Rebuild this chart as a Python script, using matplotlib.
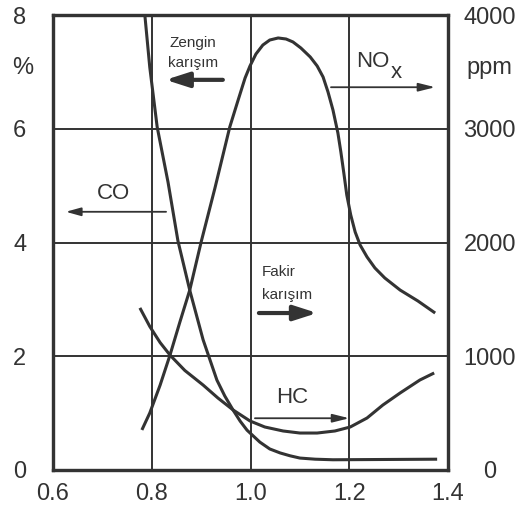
import numpy as np
import matplotlib
matplotlib.use("Agg")
import matplotlib.pyplot as plt
from matplotlib import transforms

plt.rcParams["font.family"] = ["Liberation Sans", "DejaVu Sans"]

# lambda (hava fazlalik katsayisi) ve emisyonlar
co_x = [0.786, 0.796, 0.811, 0.833, 0.853, 0.877, 0.904, 0.932, 0.948, 0.965,
        0.979, 0.993, 1.019, 1.039, 1.060, 1.080, 1.100, 1.131, 1.167, 1.378]
co_pct = [8.0, 7.08, 6.03, 5.06, 4.03, 3.16, 2.29, 1.58, 1.30, 1.05,
          0.86, 0.70, 0.49, 0.37, 0.30, 0.25, 0.21, 0.19, 0.18, 0.19]

hc_x = [0.776, 0.796, 0.817, 0.837, 0.867, 0.904, 0.934, 0.965, 0.999, 1.029,
        1.066, 1.100, 1.135, 1.171, 1.202, 1.236, 1.268, 1.303, 1.343, 1.372]
hc_ppm = [1425, 1262, 1120, 1010, 875, 747, 633, 527, 431, 378,
          343, 325, 325, 343, 378, 457, 571, 677, 791, 853]

nox_x = [0.780, 0.796, 0.817, 0.837, 0.857, 0.877, 0.900, 0.928, 0.958, 0.975,
         0.989, 0.999, 1.011, 1.025, 1.039, 1.056, 1.072, 1.086, 1.102, 1.121,
         1.135, 1.147, 1.157, 1.167, 1.177, 1.183, 1.189, 1.195, 1.203, 1.212,
         1.222, 1.236, 1.252, 1.272, 1.303, 1.339, 1.374]
nox_ppm = [352, 501, 747, 1011, 1301, 1582, 2004, 2479, 3015, 3253,
           3446, 3552, 3657, 3736, 3780, 3798, 3789, 3763, 3710, 3631,
           3552, 3455, 3323, 3165, 2963, 2796, 2611, 2418, 2242, 2092,
           1978, 1873, 1776, 1688, 1582, 1486, 1380]

x_ticks = [0.6, 0.8, 1.0, 1.2, 1.4]
left_ticks = [0, 2, 4, 6, 8]
right_ticks = [0, 1000, 2000, 3000, 4000]

ink = "#333333"

fig = plt.figure(figsize=(5.18, 5.09), dpi=100)
ax = fig.add_axes([53 / 518, 1 - 470 / 509, 395 / 518, 455 / 509])
ax2 = ax.twinx()

ax.set_xlim(0.6, 1.4)
ax.set_ylim(0, 8)
ax2.set_ylim(0, 4000)

# izgara
for gx in [0.8, 1.0, 1.2]:
    ax.axvline(gx, color=ink, lw=1.4, zorder=1)
for gy in [2, 4, 6]:
    ax.axhline(gy, color=ink, lw=1.4, zorder=1)

ax.plot(co_x, co_pct, color=ink, lw=2.2, solid_capstyle="butt",
        solid_joinstyle="round", zorder=3)
ax2.plot(hc_x, hc_ppm, color=ink, lw=2.2, solid_capstyle="butt",
         solid_joinstyle="round", zorder=3)
ax2.plot(nox_x, nox_ppm, color=ink, lw=2.2, solid_capstyle="butt",
         solid_joinstyle="round", zorder=3)

ax.set_xticks(x_ticks)
ax.set_xticklabels(["0.6", "0.8", "1.0", "1.2", "1.4"])
ax.set_yticks(left_ticks)
ax2.set_yticks(right_ticks)
ax.tick_params(axis="x", length=0, pad=9, labelsize=17, labelcolor=ink)
ax.tick_params(axis="y", length=0, pad=24, labelsize=17, labelcolor=ink)
ax2.tick_params(axis="y", length=0, pad=30, labelsize=17, labelcolor=ink)
plt.setp(ax.get_yticklabels(), ha="center")
plt.setp(ax2.get_yticklabels(), ha="center")

for a in (ax, ax2):
    for sp in a.spines.values():
        sp.set_color(ink)
        sp.set_linewidth(2.3)

# birim etiketleri
trans = transforms.blended_transform_factory(ax.transAxes, ax.transData)
ax.text(-0.078, 7.06, "%", transform=trans, ha="center", va="center",
        fontsize=17, color=ink)
ax.text(1.106, 7.06, "ppm", transform=trans, ha="center", va="center",
        fontsize=17, color=ink)

# yazilar ve oklar
ax.text(0.884, 7.51, "Zengin", ha="center", va="center", fontsize=11, color=ink)
ax.text(0.884, 7.16, "karışım", ha="center", va="center", fontsize=11, color=ink)
ax.annotate("", xy=(0.828, 6.86), xytext=(0.944, 6.86),
            arrowprops=dict(arrowstyle="-|>,head_length=1.4,head_width=0.45",
                            lw=3, color=ink, shrinkA=0, shrinkB=0))

ax.text(0.722, 4.87, "CO", ha="center", va="center", fontsize=16, color=ink)
ax.annotate("", xy=(0.626, 4.54), xytext=(0.829, 4.54),
            arrowprops=dict(arrowstyle="-|>,head_length=0.9,head_width=0.25",
                            lw=1.3, color=ink, shrinkA=0, shrinkB=0))

ax.text(1.214, 7.19, "NO", ha="left", va="center", fontsize=16, color=ink)
ax.text(1.296, 6.89, "x", ha="center", va="baseline", fontsize=16, color=ink)
ax.annotate("", xy=(1.374, 6.73), xytext=(1.163, 6.73),
            arrowprops=dict(arrowstyle="-|>,head_length=1.0,head_width=0.25",
                            lw=1.3, color=ink, shrinkA=0, shrinkB=0))

ax.text(1.023, 3.48, "Fakir", ha="left", va="center", fontsize=11, color=ink)
ax.text(1.023, 3.08, "karışım", ha="left", va="center", fontsize=11, color=ink)
ax.annotate("", xy=(1.135, 2.76), xytext=(1.017, 2.76),
            arrowprops=dict(arrowstyle="-|>,head_length=1.4,head_width=0.45",
                            lw=3, color=ink, shrinkA=0, shrinkB=0))

ax.text(1.084, 1.28, "HC", ha="center", va="center", fontsize=16, color=ink)
ax.annotate("", xy=(1.200, 0.91), xytext=(1.009, 0.91),
            arrowprops=dict(arrowstyle="-|>,head_length=1.0,head_width=0.25",
                            lw=1.3, color=ink, shrinkA=0, shrinkB=0))

fig.savefig("out.png", dpi=100)
